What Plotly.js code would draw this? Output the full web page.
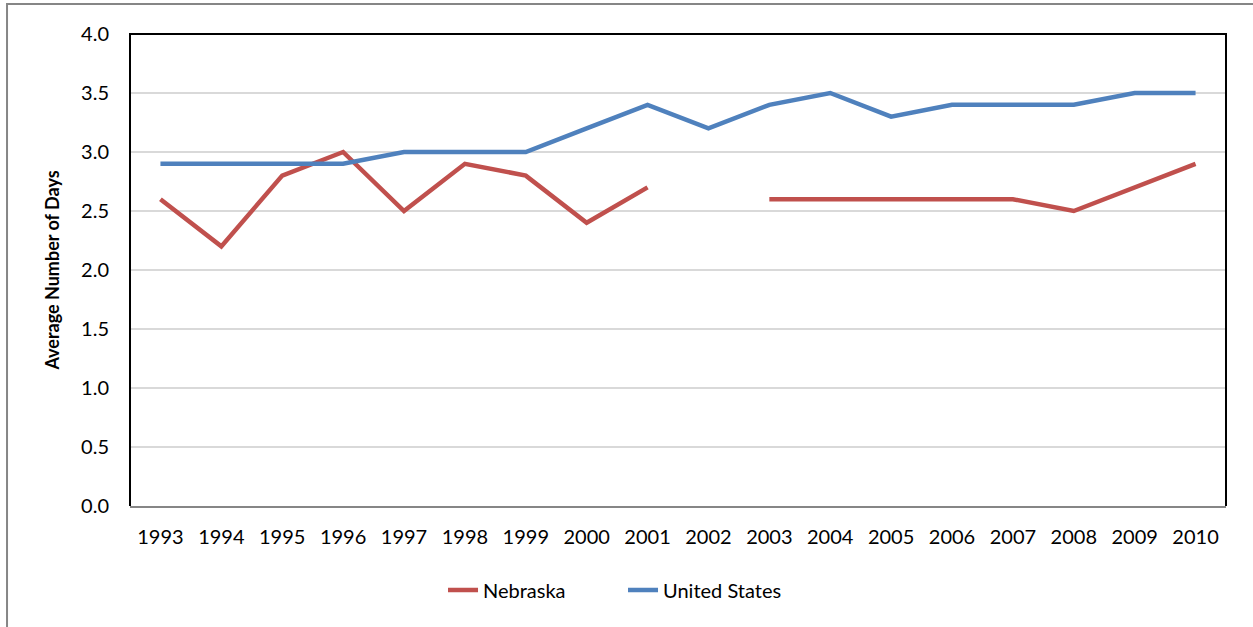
<!DOCTYPE html>
<html>
<head>
<meta charset="utf-8">
<script src="https://cdn.plot.ly/plotly-3.0.1.min.js"></script>
<style>html,body{margin:0;padding:0;background:#fff;}#chart{width:1253px;height:627px;}</style>
</head>
<body>
<div id="chart"></div>
<script>
const years = ["1993","1994","1995","1996","1997","1998","1999","2000","2001","2002","2003","2004","2005","2006","2007","2008","2009","2010"];
const nebraska = [2.6, 2.2, 2.8, 3.0, 2.5, 2.9, 2.8, 2.4, 2.7, null, 2.6, 2.6, 2.6, 2.6, 2.6, 2.5, 2.7, 2.9];
const unitedStates = [2.9, 2.9, 2.9, 2.9, 3.0, 3.0, 3.0, 3.2, 3.4, 3.2, 3.4, 3.5, 3.3, 3.4, 3.4, 3.4, 3.5, 3.5];
const yTicks = [0, 0.5, 1.0, 1.5, 2.0, 2.5, 3.0, 3.5, 4.0];

const FONT = 'Lato, "Open Sans", sans-serif';

const traces = [
  {x: years, y: nebraska, name: 'Nebraska', type: 'scatter', mode: 'lines',
   connectgaps: false, line: {color: '#c0504d', width: 4.5}},
  {x: years, y: unitedStates, name: 'United States', type: 'scatter', mode: 'lines',
   line: {color: '#4f81bd', width: 4.5}}
];

const layout = {
  width: 1253, height: 627,
  margin: {l: 130, r: 27, t: 34, b: 121},
  paper_bgcolor: '#fff', plot_bgcolor: '#fff',
  font: {family: FONT, size: 20, color: '#000'},
  showlegend: true,
  legend: {orientation: 'h', x: 0.2856, xanchor: 'left', y: -0.178, yanchor: 'middle',
           font: {family: FONT, size: 20, color: '#000'}, entrywidth: 135, tracegroupgap: 0},
  xaxis: {type: 'category', categoryorder: 'array', categoryarray: years, range: [-0.5, 17.5],
          showgrid: false, zeroline: false, showline: true, linecolor: '#868686', linewidth: 2,
          ticks: '', ticklabelstandoff: 12, tickfont: {family: FONT, size: 20}},
  yaxis: {range: [0, 4], tickvals: yTicks, ticktext: yTicks.map(v => v.toFixed(1)),
          showgrid: true, gridcolor: '#d9d9d9', gridwidth: 1.5, zeroline: false,
          showline: false, ticks: '', ticklabelstandoff: 20, tickfont: {family: FONT, size: 20},
          title: {text: '<b>Average Number of Days</b>', font: {family: FONT, size: 18}, standoff: 16}},
  shapes: [
    {type: 'path', xref: 'paper', yref: 'paper', path: 'M 0 0 L 0 1 L 1 1 L 1 0',
     line: {color: '#000', width: 2}, layer: 'above'},
    {type: 'path', xref: 'paper', yref: 'paper', path: 'M -0.1122 -0.3 L -0.1122 1.0636 L 1.03 1.0636',
     line: {color: '#868686', width: 2}, layer: 'above'}
  ]
};

Plotly.newPlot('chart', traces, layout, {displayModeBar: false, staticPlot: true});
</script>
</body>
</html>
